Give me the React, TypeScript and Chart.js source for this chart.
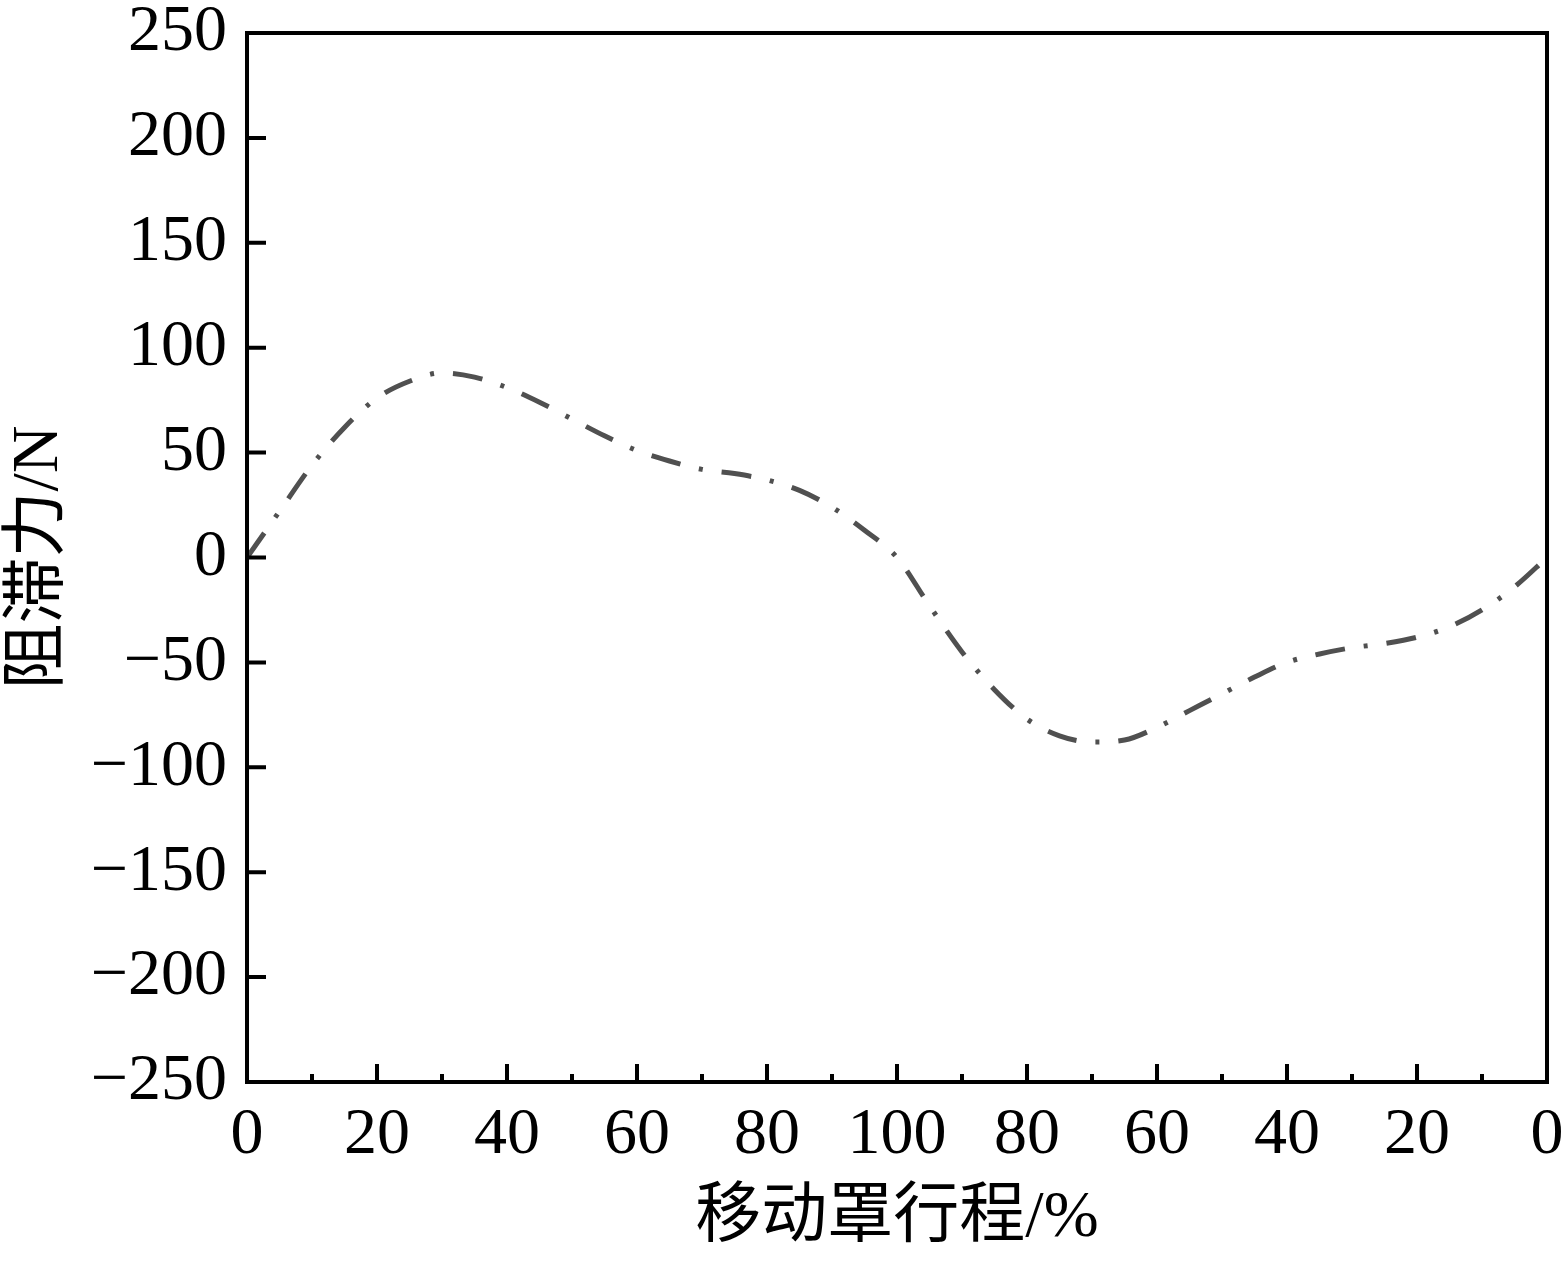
import React, { useEffect, useRef } from 'react';
import { Chart, registerables } from 'chart.js';

Chart.register(...registerables);

// 移动罩行程 (0-100 forward, 100-200 = return stroke 100→0)
const strokePos = [
  0, 5, 10, 15, 20, 25, 30, 35, 40, 45, 50, 55, 60, 65, 70, 75, 80, 85, 90, 95, 100,
  105, 110, 115, 120, 125, 130, 135, 140, 145, 150, 155, 160, 165, 170, 175, 180, 185, 190, 195, 200,
];
// 阻滞力 / N
const dragForce = [
  0, 22, 44, 62, 76, 84, 88, 86, 81, 74, 66, 58, 51, 46, 42, 40, 37, 32, 24, 13, 0,
  -23, -45, -63, -77, -85, -88, -87, -81, -73, -65, -57, -50, -46, -43, -41, -38, -33, -25, -14, 0,
];

const FONT = '"Liberation Serif", "Times New Roman", "Noto Sans CJK SC", serif';

// box frame + inward ticks, like the original plot
const frameTicks = {
  id: 'frameTicks',
  afterDraw(chart: any) {
    const { ctx, chartArea: a, scales } = chart;
    ctx.save();
    ctx.strokeStyle = '#000';
    ctx.lineWidth = 4;
    ctx.strokeRect(a.left, a.top, a.right - a.left, a.bottom - a.top);
    ctx.beginPath();
    scales.y.ticks.forEach((t: any) => {
      const py = scales.y.getPixelForValue(t.value);
      ctx.moveTo(a.left, py);
      ctx.lineTo(a.left + 19, py);
    });
    scales.x.ticks.forEach((t: any) => {
      const px = scales.x.getPixelForValue(t.value);
      const len = t.value % 20 === 0 ? 18 : 8;
      ctx.moveTo(px, a.bottom);
      ctx.lineTo(px, a.bottom - len);
    });
    ctx.stroke();
    ctx.restore();
  },
};

export default function App() {
  const canvasRef = useRef<HTMLCanvasElement>(null);

  useEffect(() => {
    document.body.style.margin = '0';
    const ctx = canvasRef.current?.getContext('2d');
    if (!ctx) return;

    const chart = new Chart(ctx, {
      type: 'line',
      data: {
        datasets: [{
          data: strokePos.map((x, i) => ({ x, y: dragForce[i] })),
          borderColor: '#505050',
          borderWidth: 5,
          borderDash: [30, 19, 4, 19],
          borderCapStyle: 'butt',
          pointRadius: 0,
          cubicInterpolationMode: 'monotone',
          fill: false,
        }],
      },
      options: {
        animation: false,
        responsive: true,
        maintainAspectRatio: false,
        layout: { padding: { top: 33, right: 18, left: 0, bottom: 5 } },
        plugins: { legend: { display: false }, tooltip: { enabled: false } },
        scales: {
          x: {
            type: 'linear',
            min: 0,
            max: 200,
            grid: { display: false, drawTicks: false },
            border: { display: false },
            afterFit: (s: any) => {
              s.height = 176;
              s.paddingLeft = 0;
              s.paddingRight = 0;
            },
            ticks: {
              stepSize: 10,
              autoSkip: false,
              maxRotation: 0,
              padding: 21,
              color: '#000',
              font: { family: FONT, size: 66, lineHeight: 1 },
              callback: (v: any) => (v % 20 === 0 ? String(v <= 100 ? v : 200 - v) : ''),
            },
            title: {
              display: true,
              text: '移动罩行程/%',
              color: '#000',
              padding: 0,
              font: { family: FONT, size: 66 },
            },
          },
          y: {
            min: -250,
            max: 250,
            grid: { display: false, drawTicks: false },
            border: { display: false },
            afterFit: (s: any) => {
              s.width = 247;
              s.paddingTop = 0;
              s.paddingBottom = 0;
            },
            ticks: {
              stepSize: 50,
              padding: 20,
              color: '#000',
              font: { family: FONT, size: 66, lineHeight: 1 },
              callback: (v: any) => (v < 0 ? '\u2212' + Math.abs(v) : String(v)),
            },
            title: {
              display: true,
              text: '阻滞力/N',
              color: '#000',
              padding: 0,
              font: { family: FONT, size: 66 },
            },
          },
        },
      },
      plugins: [frameTicks],
    });

    return () => chart.destroy();
  }, []);

  return (
    <div style={{ width: 1565, height: 1263, position: 'relative', background: '#fff' }}>
      <canvas ref={canvasRef} />
    </div>
  );
}
